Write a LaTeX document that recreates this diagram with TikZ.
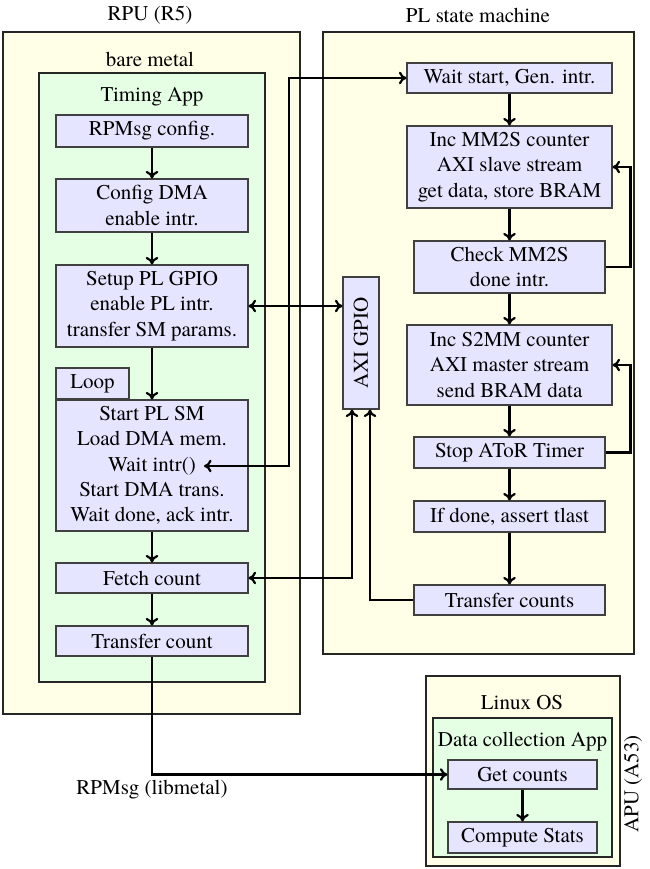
\documentclass[tikz,border=0pt]{standalone}
\usepackage{fontspec}
\setmainfont{TeX Gyre Termes}
\usetikzlibrary{calc,arrows.meta}
\tikzset{
  sz/.style 2 args={minimum width={#1*0.47619pt}, minimum height={#2*0.47619pt}},
  box/.style={draw=black!75, fill=blue!10, inner sep=0pt, align=center, line width=0.5pt},
  outer/.style={draw=black!85, fill=yellow!10, inner sep=0pt, line width=0.5pt},
  inner/.style={draw=black!85, fill=green!10, inner sep=0pt, line width=0.5pt},
  lbl/.style={inner sep=0pt},
  conn/.style={line width=1.05pt},
  >={To[length=3.6pt,width=6pt]},
}
\begin{document}
\begin{tikzpicture}[x=0.47619pt, y=-0.47619pt, font=\fontsize{10}{12}\selectfont]
\useasboundingbox (0,0) rectangle (649,869);
% containers
\node[outer, sz={297}{682}] (rpu) at (151.5,373) {};
\node[lbl] (rpul) at (150,15) {RPU (R5)};
\node[lbl] (bare) at (150,59) {bare metal};
\node[inner, sz={226}{609}] (tapp) at (152,377.5) {};
\node[lbl] (tappl) at (152,97) {Timing App};

\node[outer, sz={311}{622}] (pl) at (478.5,343) {};
\node[lbl] (pll) at (478,15) {PL state machine};

\node[outer, sz={194}{190}] (apu) at (523,771) {};
\node[lbl] (linux) at (522,703) {Linux OS};
\node[inner, sz={179}{139}] (dapp) at (522.5,787.5) {};
\node[lbl] (dappl) at (522.5,742) {Data collection App};
\node[lbl, rotate=90] (apul) at (633,784) {APU (A53)};

% RPU boxes
\node[box, sz={192}{32}] (rpm) at (152,131) {RPMsg config.};
\node[box, sz={192}{53}] (cdma) at (152,205.5) {Config DMA\\enable intr.};
\node[box, sz={192}{82}] (setup) at (152,306) {Setup PL GPIO\\enable PL intr.\\transfer SM params.};
\node[box, sz={73}{31}] (loop) at (92.5,383.5) {Loop};
\node[box, sz={192}{131}] (start) at (152,465.5) {Start PL SM\\Load DMA mem.\\Wait intr()\\Start DMA trans.\\Wait done, ack intr.};
\node[box, sz={192}{30}] (fetch) at (152,578) {Fetch count};
\node[box, sz={192}{30}] (tcount) at (152,641) {Transfer count};
\coordinate (wi) at (204,466);

% PL boxes
\node[box, sz={205}{30}] (wait) at (509.5,78) {Wait start, Gen. intr.};
\node[box, sz={205}{82}] (incmm) at (509.5,167) {Inc MM2S counter\\AXI slave stream\\get data, store BRAM};
\node[box, sz={191}{52}] (check) at (509.5,267) {Check MM2S\\done intr.};
\node[box, sz={205}{80}] (incs2) at (509.5,365) {Inc S2MM counter\\AXI master stream\\send BRAM data};
\node[box, sz={191}{31}] (stop) at (509.5,452.5) {Stop AToR Timer};
\node[box, sz={191}{31}] (ifdone) at (509.5,516.5) {If done, assert tlast};
\node[box, sz={191}{30}] (tcounts) at (509.5,600) {Transfer counts};
\node[box, sz={132}{36}, rotate=90] (axi) at (361,343) {AXI GPIO};

% APU boxes
\node[box, sz={149}{29}] (get) at (522.5,774.5) {Get counts};
\node[box, sz={149}{31}] (comp) at (522.5,837.5) {Compute Stats};
\node[lbl] (rpmsg) at (152,790) {RPMsg (libmetal)};

% connectors
\draw[conn,->] (rpm.south) -- (cdma.north);
\draw[conn,->] (cdma.south) -- (setup.north);
\draw[conn,->] (setup.south) -- (start.north);
\draw[conn,->] (start.south) -- (fetch.north);
\draw[conn,->] (fetch.south) -- (tcount.north);

\draw[conn,->] (wait.south) -- (incmm.north);
\draw[conn,->] (incmm.south) -- (check.north);
\draw[conn,->] (check.south) -- (incs2.north);
\draw[conn,->] (incs2.south) -- (stop.north);
\draw[conn,->] (stop.south) -- (ifdone.north);
\draw[conn,->] (ifdone.south) -- (tcounts.north);
\draw[conn,->] (check.east) -- ++(25,0) |- (incmm.east);
\draw[conn,->] (stop.east) -- ++(25,0) |- (incs2.east);

\draw[conn,<->] (wait.west) -- (289,78) -- (289,466) -- (wi);
\draw[conn,<->] (setup.east) -- (setup.east -| axi.north);
\draw[conn,<->] (fetch.east) -| ($(axi.west)+(-9,0)$);
\draw[conn,->] (tcounts.west) -| ($(axi.west)+(9,0)$);

\draw[conn,->] (tcount.south) |- (get.west);
\draw[conn,->] (get.south) -- (comp.north);
\end{tikzpicture}
\end{document}
